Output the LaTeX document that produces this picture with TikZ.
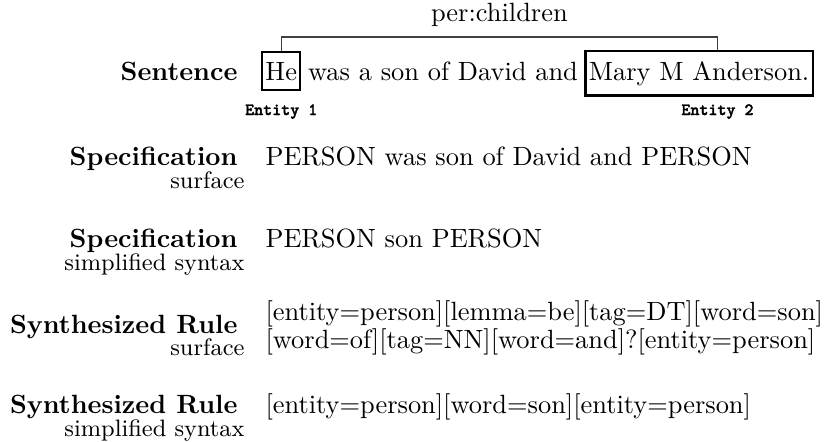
\documentclass[tikz,border=0pt]{standalone}
\usepackage{fontspec}
\usepackage{tikz}
\usetikzlibrary{positioning,calc}
\newfontfamily\tagfont{lmmonolt10-bold.otf}[FakeBold=2]
\tikzstyle{lbl} = [font=\bfseries, inner sep=0pt, anchor=base east]
\tikzstyle{sub} = [font=\small, inner sep=0pt, anchor=base east]
\tikzstyle{txt} = [inner sep=0pt, anchor=base west]
\tikzstyle{ent} = [draw, line width=0.8pt, inner xsep=1.3pt, inner ysep=3.8pt, anchor=base west]
\tikzstyle{tag} = [font=\fontsize{6.5}{7}\selectfont\tagfont, inner sep=0pt, anchor=base]
\tikzstyle{line} = [draw, black!75, line width=0.5pt]

\begin{document}
\begin{tikzpicture}[x=0.3788pt, y=-0.3788pt]
\useasboundingbox (0,0) rectangle (830,441);
\coordinate (top) at (0,37);
\coordinate (tagrow) at (0,115);
% sentence
\node [lbl] (sent) at (238,80) {Sentence};
\node [ent] (he) at (261,80) {He};
\node [txt] (mid) at ([xshift=2.3pt]he.base east) {was a son of David and};
\node [ent] (mary) at ([xshift=2.3pt]mid.base east) {Mary M Anderson.};
\coordinate (mtop) at ($(mary.north west)!0.58!(mary.north east)$);
\path [line] (he.north) |- (mtop |- top) -- (mtop);
\node [txt, anchor=base, yshift=5.7pt] (rel) at ($(he.north |- top)!0.5!(mtop |- top)$) {per:children};
\node [tag] (ent1) at (he.south |- tagrow) {Entity 1};
\node [tag] (ent2) at (mtop |- tagrow) {Entity 2};
% specifications
\node [lbl] (spec) at (238,165) {Specification};
\node [sub] (specsub) at (245,188) {surface};
\node [txt] (spectxt) at (265,165) {PERSON was son of David and PERSON};
\node [lbl] (simp) at (238,247) {Specification};
\node [sub] (simpsub) at (245,270) {simplified syntax};
\node [txt] (simptxt) at (265,247) {PERSON son PERSON};
% synthesized rules
\node [lbl] (rule) at (238,333) {Synthesized Rule};
\node [sub] (rulesub) at (245,355) {surface};
\node [txt] (ruletxt) at (265,320) {[entity=person][lemma=be][tag=DT][word=son]};
\node [txt] (ruletxtb) at (265,348) {[word=of][tag=NN][word=and]?[entity=person]};
\node [lbl] (srule) at (238,413) {Synthesized Rule};
\node [sub] (srulesub) at (245,436) {simplified syntax};
\node [txt] (sruletxt) at (265,413) {[entity=person][word=son][entity=person]};
\end{tikzpicture}
\end{document}
